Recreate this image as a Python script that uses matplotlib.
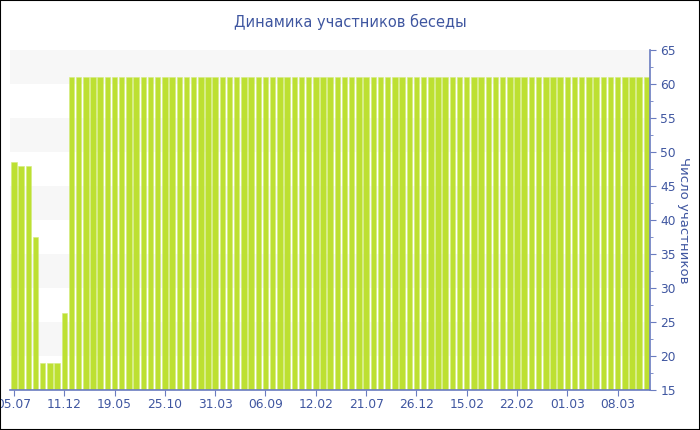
import matplotlib
matplotlib.use("Agg")
import matplotlib.pyplot as plt
from matplotlib.patches import Rectangle
from matplotlib.ticker import MultipleLocator

# ─── data ───────────────────────────────────────────────────────────
members = [
    48.6, 48.0, 48.0, 37.5, 19.0, 19.0, 19.0, 26.3,
    61, 61, 61, 61, 61, 61, 61, 61, 61, 61, 61, 61, 61, 61,
    61, 61, 61, 61, 61, 61, 61, 61, 61, 61, 61, 61, 61, 61,
    61, 61, 61, 61, 61, 61, 61, 61, 61, 61, 61, 61, 61, 61,
    61, 61, 61, 61, 61, 61, 61, 61, 61, 61, 61, 61, 61, 61,
    61, 61, 61, 61, 61, 61, 61, 61, 61, 61, 61, 61, 61, 61,
    61, 61, 61, 61, 61, 61, 61, 61, 61, 61, 61,
]
tick_labels = ["05.07", "11.12", "19.05", "25.10", "31.03", "06.09", "12.02",
               "21.07", "26.12", "15.02", "22.02", "01.03", "08.03"]
tick_step = 7

TEXT = "#3f56a0"
AXIS = "#6a7cc0"
BAR = "#bde032"

# ─── plot ───────────────────────────────────────────────────────────
fig = plt.figure(figsize=(7, 4.3), dpi=100)
ax = fig.add_axes([10 / 700, 40 / 430, 640 / 700, 340 / 430])

xs = list(range(len(members)))
ax.bar(xs, members, width=0.76, color=BAR, edgecolor="#d3ec7c",
       linewidth=0.4, zorder=2)

ax.set_ylim(15, 65)
ax.set_xlim(-0.55, len(members) - 0.5)

# alternating grey bands
for lo in range(20, 65, 10):
    ax.axhspan(lo, lo + 5, color="#f7f7f7", zorder=0, lw=0)

ax.yaxis.tick_right()
ax.yaxis.set_label_position("right")
ax.yaxis.set_major_locator(MultipleLocator(5))
ax.yaxis.set_minor_locator(MultipleLocator(2.5))
ax.set_ylabel("Число участников", rotation=270, labelpad=10, color=TEXT, fontsize=9.5)

ax.set_xticks(xs[::tick_step])
ax.set_xticklabels(tick_labels)

for s in ("top", "left"):
    ax.spines[s].set_visible(False)
for s in ("right", "bottom"):
    ax.spines[s].set_color(AXIS)
    ax.spines[s].set_linewidth(1.2)

ax.tick_params(axis="both", colors=AXIS, labelcolor=TEXT, labelsize=8.8, length=4)
ax.tick_params(axis="y", which="minor", colors=AXIS, length=2.5)
ax.tick_params(axis="x", pad=2)

fig.text(0.5, 1 - 22 / 430, "Динамика участников беседы", ha="center", va="center",
         color=TEXT, fontsize=10.5)

# thin black frame round the whole image
fig.patches.append(Rectangle((0, 0), 1, 1, transform=fig.transFigure, fill=False,
                             edgecolor="black", linewidth=1.5))

fig.savefig("out.png", dpi=100, facecolor="white")
